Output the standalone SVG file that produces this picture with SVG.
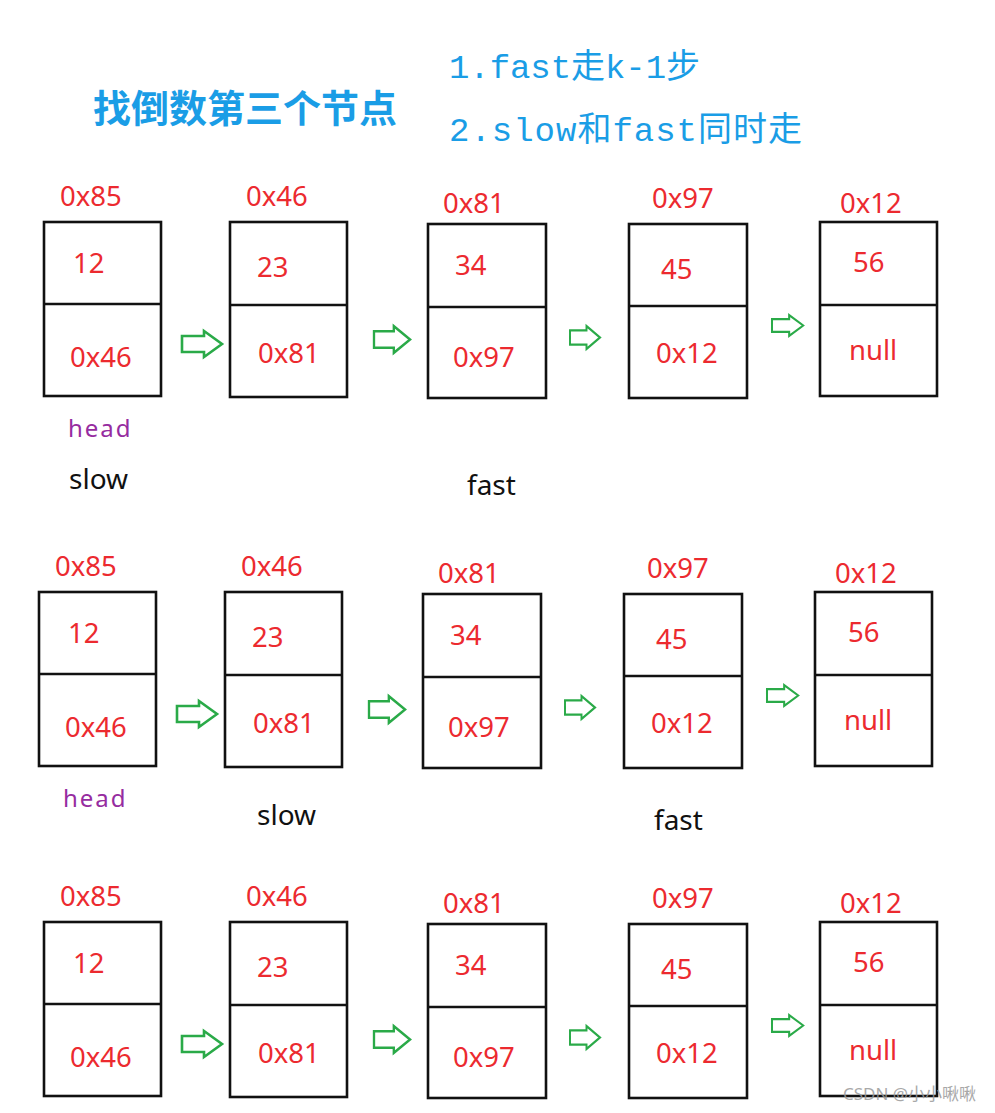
<svg xmlns="http://www.w3.org/2000/svg" width="995" height="1113" viewBox="0 0 995 1113">
<style>
.box{fill:#fff;stroke:#111;stroke-width:2.6}
.div{stroke:#111;stroke-width:2.6}
.r{fill:#ec2a2f;font-family:"Noto Sans","Open Sans",sans-serif;font-size:27.5px}
.k{fill:#111;font-family:"Noto Sans","Open Sans",sans-serif;font-size:28px}
.hd{fill:#962ca0;font-family:"Noto Sans","Open Sans",sans-serif;font-size:24px;letter-spacing:2px}
.arr{fill:none;stroke:#2aaa48;stroke-width:2.6;stroke-linejoin:miter}
.t{fill:#1a9de6;font-family:"Noto Sans CJK SC",sans-serif;font-size:38px;font-weight:bold}
.s{fill:#1a9de6;font-family:"Liberation Mono","Noto Sans CJK SC",monospace;font-size:34px}
.wm{fill:#9a9a9a;font-family:"Noto Sans","Noto Sans CJK SC",sans-serif;font-size:17px;opacity:.85}
</style>
<defs>
<path id="ar" d="M0,-8 H22 V-13 L40,0 L22,13 V8 H0 Z"/>
</defs>

<g id="title">
<text class="t" x="93" y="122">找倒数第三个节点</text>
<text class="s" x="449" y="78" textLength="251" lengthAdjust="spacing">1.fast走k-1步</text>
<text class="s" x="449" y="141" textLength="353" lengthAdjust="spacing">2.slow和fast同时走</text>
</g>

<!-- Row 1 -->
<g id="row1">
<g id="r1-n1">
<rect class="box" x="44" y="222" width="117" height="174"/><line class="div" x1="44" y1="304" x2="161" y2="304"/>
<text class="r" x="60" y="206">0x85</text><text class="r" x="73" y="273">12</text><text class="r" x="70" y="367">0x46</text>
</g>
<g id="r1-n2">
<rect class="box" x="230" y="222" width="117" height="175"/><line class="div" x1="230" y1="305" x2="347" y2="305"/>
<text class="r" x="246" y="206">0x46</text><text class="r" x="257" y="277">23</text><text class="r" x="258" y="363">0x81</text>
</g>
<g id="r1-n3">
<rect class="box" x="428" y="224" width="118" height="174"/><line class="div" x1="428" y1="307" x2="546" y2="307"/>
<text class="r" x="443" y="213">0x81</text><text class="r" x="455" y="275">34</text><text class="r" x="453" y="367">0x97</text>
</g>
<g id="r1-n4">
<rect class="box" x="629" y="224" width="118" height="174"/><line class="div" x1="629" y1="306" x2="747" y2="306"/>
<text class="r" x="652" y="208">0x97</text><text class="r" x="661" y="279">45</text><text class="r" x="656" y="363">0x12</text>
</g>
<g id="r1-n5">
<rect class="box" x="820" y="222" width="117" height="174"/><line class="div" x1="820" y1="305" x2="937" y2="305"/>
<text class="r" x="840" y="213">0x12</text><text class="r" x="853" y="272">56</text><text class="r" x="849" y="360">null</text>
</g>
<g id="r1-labels">
<text class="hd" x="68" y="437">head</text>
<text class="k" x="69" y="489">slow</text>
<text class="k" x="467" y="495">fast</text>
</g>
<g id="r1-connectors">
<use href="#ar" class="arr" transform="translate(182,344)"/>
<use href="#ar" class="arr" transform="translate(374,339.5) scale(0.9,1.03)"/>
<use href="#ar" class="arr" transform="translate(570,337.5) scale(0.75,0.88)"/>
<use href="#ar" class="arr" transform="translate(772,325.5) scale(0.78,0.8)"/>
</g>
</g>

<!-- Row 2 -->
<g id="row2" transform="translate(-5,370)">
<g id="r2-n1">
<rect class="box" x="44" y="222" width="117" height="174"/><line class="div" x1="44" y1="304" x2="161" y2="304"/>
<text class="r" x="60" y="206">0x85</text><text class="r" x="73" y="273">12</text><text class="r" x="70" y="367">0x46</text>
</g>
<g id="r2-n2">
<rect class="box" x="230" y="222" width="117" height="175"/><line class="div" x1="230" y1="305" x2="347" y2="305"/>
<text class="r" x="246" y="206">0x46</text><text class="r" x="257" y="277">23</text><text class="r" x="258" y="363">0x81</text>
</g>
<g id="r2-n3">
<rect class="box" x="428" y="224" width="118" height="174"/><line class="div" x1="428" y1="307" x2="546" y2="307"/>
<text class="r" x="443" y="213">0x81</text><text class="r" x="455" y="275">34</text><text class="r" x="453" y="367">0x97</text>
</g>
<g id="r2-n4">
<rect class="box" x="629" y="224" width="118" height="174"/><line class="div" x1="629" y1="306" x2="747" y2="306"/>
<text class="r" x="652" y="208">0x97</text><text class="r" x="661" y="279">45</text><text class="r" x="656" y="363">0x12</text>
</g>
<g id="r2-n5">
<rect class="box" x="820" y="222" width="117" height="174"/><line class="div" x1="820" y1="305" x2="937" y2="305"/>
<text class="r" x="840" y="213">0x12</text><text class="r" x="853" y="272">56</text><text class="r" x="849" y="360">null</text>
</g>
<g id="r2-labels">
<text class="hd" x="68" y="437">head</text>
<text class="k" x="262" y="455">slow</text>
<text class="k" x="659" y="460">fast</text>
</g>
<g id="r2-connectors">
<use href="#ar" class="arr" transform="translate(182,344)"/>
<use href="#ar" class="arr" transform="translate(374,339.5) scale(0.9,1.03)"/>
<use href="#ar" class="arr" transform="translate(570,337.5) scale(0.75,0.88)"/>
<use href="#ar" class="arr" transform="translate(772,325.5) scale(0.78,0.8)"/>
</g>
</g>

<!-- Row 3 -->
<g id="row3" transform="translate(0,700)">
<g id="r3-n1">
<rect class="box" x="44" y="222" width="117" height="174"/><line class="div" x1="44" y1="304" x2="161" y2="304"/>
<text class="r" x="60" y="206">0x85</text><text class="r" x="73" y="273">12</text><text class="r" x="70" y="367">0x46</text>
</g>
<g id="r3-n2">
<rect class="box" x="230" y="222" width="117" height="175"/><line class="div" x1="230" y1="305" x2="347" y2="305"/>
<text class="r" x="246" y="206">0x46</text><text class="r" x="257" y="277">23</text><text class="r" x="258" y="363">0x81</text>
</g>
<g id="r3-n3">
<rect class="box" x="428" y="224" width="118" height="174"/><line class="div" x1="428" y1="307" x2="546" y2="307"/>
<text class="r" x="443" y="213">0x81</text><text class="r" x="455" y="275">34</text><text class="r" x="453" y="367">0x97</text>
</g>
<g id="r3-n4">
<rect class="box" x="629" y="224" width="118" height="174"/><line class="div" x1="629" y1="306" x2="747" y2="306"/>
<text class="r" x="652" y="208">0x97</text><text class="r" x="661" y="279">45</text><text class="r" x="656" y="363">0x12</text>
</g>
<g id="r3-n5">
<rect class="box" x="820" y="222" width="117" height="174"/><line class="div" x1="820" y1="305" x2="937" y2="305"/>
<text class="r" x="840" y="213">0x12</text><text class="r" x="853" y="272">56</text><text class="r" x="849" y="360">null</text>
</g>
<g id="r3-connectors">
<use href="#ar" class="arr" transform="translate(182,344)"/>
<use href="#ar" class="arr" transform="translate(374,339.5) scale(0.9,1.03)"/>
<use href="#ar" class="arr" transform="translate(570,337.5) scale(0.75,0.88)"/>
<use href="#ar" class="arr" transform="translate(772,325.5) scale(0.78,0.8)"/>
</g>
</g>

<text class="wm" x="843" y="1100">CSDN @小小啾啾</text>
</svg>
